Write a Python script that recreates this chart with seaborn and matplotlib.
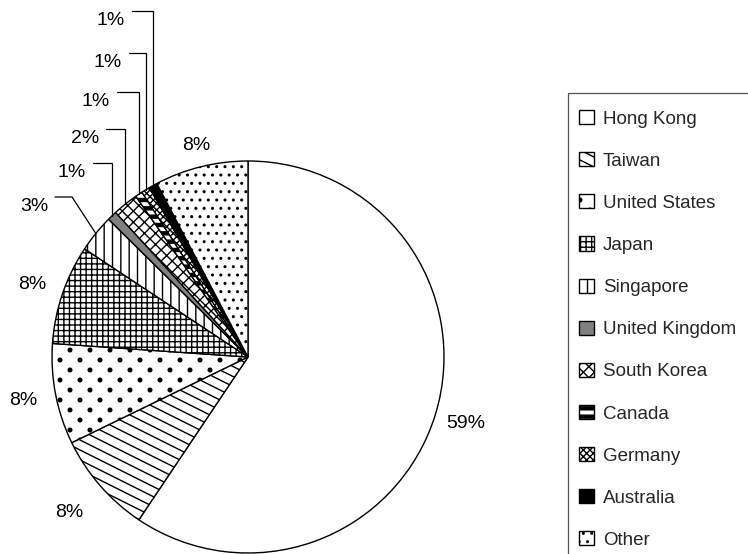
import warnings

import numpy as np
import matplotlib
matplotlib.use("Agg")
import matplotlib.pyplot as plt
from matplotlib import hatch as mhatch
from matplotlib.path import Path
from matplotlib.patches import Rectangle
import seaborn as sns

# Share of total by origin, in percent (clockwise from 12 o'clock)
countries = ["Hong Kong", "Taiwan", "United States", "Japan", "Singapore",
             "United Kingdom", "South Korea", "Canada", "Germany", "Australia",
             "Other"]
shares = [59.4, 8.4, 8.3, 8.2, 3.1, 0.8, 2.1, 0.6, 0.7, 0.7, 7.7]

# Monochrome fills: face colour plus hatch pattern for each slice
faces = ["white", "white", "white", "white", "white", "#808080", "white",
         "white", "white", "black", "white"]
hatches = [None, "z", "d", "+++", "||", None, "xxx", "=", "xxxxx", None, ".."]


# ---- extra hatch patterns (shallow stripes, staggered dots, heavy bands) ----
class _TiledHatch(mhatch.HatchPatternBase):
    key = ""

    def __init__(self, hatch, density):
        self._parts = self.build() if (self.key and self.key in hatch) else []
        self.num_vertices = sum(len(v) for v, _ in self._parts)

    def build(self):
        return []

    def set_vertices_and_codes(self, vertices, codes):
        i = 0
        for v, c in self._parts:
            n = len(v)
            vertices[i:i + n] = v
            codes[i:i + n] = c
            i += n


class ShallowStripes(_TiledHatch):
    key = "z"

    def build(self):
        n = 10
        parts = []
        for k in range(n * 3 // 2 + 1):
            c = k / n
            v = np.array([[-0.1, c + 0.05], [1.1, c - 0.55]])
            parts.append((v, [Path.MOVETO, Path.LINETO]))
        return parts


class StaggeredDots(_TiledHatch):
    key = "d"

    def build(self):
        circle = Path.unit_circle()
        r = 0.018
        parts = []
        for row in range(11):
            y = row / 10
            if row % 2 == 0:
                xs = np.arange(6) / 5
            else:
                xs = (np.arange(5) + 0.5) / 5
            for x in xs:
                parts.append((circle.vertices * r + [x, y], circle.codes))
        return parts


class HeavyBands(_TiledHatch):
    key = "="

    def build(self):
        n, t = 12, 0.03
        parts = []
        for k in range(n + 1):
            y0 = k / n - t / 2
            v = np.array([[-0.05, y0], [1.05, y0], [1.05, y0 + t],
                          [-0.05, y0 + t], [-0.05, y0]])
            parts.append((v, [Path.MOVETO, Path.LINETO, Path.LINETO,
                              Path.LINETO, Path.CLOSEPOLY]))
        return parts


mhatch._hatch_types.extend([ShallowStripes, StaggeredDots, HeavyBands])
warnings.filterwarnings("ignore", message=".*hatch must consist.*")

# ---- style ----
sns.set_theme(style="white")
plt.rcParams["font.family"] = ["Liberation Sans", "DejaVu Sans"]
plt.rcParams["hatch.linewidth"] = 1.0
plt.rcParams["hatch.color"] = "black"

W, H = 748, 554
CX, CY, R = 248, 357, 196          # pie centre and radius in pixels

fig = plt.figure(figsize=(W / 100, H / 100), dpi=100)
ax = fig.add_axes([0, 0, 1, 1])


def px(x, y):
    """Pixel position (from top-left) -> data coordinates of the pie axes."""
    return (x - CX) / R, (CY - y) / R


wedges, _ = ax.pie(shares, startangle=90, counterclock=False, colors=faces,
                   wedgeprops=dict(edgecolor="black", linewidth=1.0))
for w, h in zip(wedges, hatches):
    w.set_hatch(h)

ax.set_xlim(-CX / R, (W - CX) / R)
ax.set_ylim(-(H - CY) / R, CY / R)
ax.set_aspect("auto")
ax.axis("off")


def mid_angle(w):
    return np.deg2rad((w.theta1 + w.theta2) / 2)


def pct(i):
    return f"{shares[i]:.0f}%"


# Labels of the large slices, set radially outside the rim
label_radius = {"Hong Kong": 1.16, "Taiwan": 1.21, "United States": 1.17,
                "Japan": 1.16, "Other": 1.11}
for name, rf in label_radius.items():
    i = countries.index(name)
    a = mid_angle(wedges[i])
    ax.text(rf * np.cos(a), rf * np.sin(a), pct(i), ha="center",
            va="center", fontsize=14, color="black")

# Thin slices: stacked labels with elbow leader lines
# (right edge of text, height of the leader) in pixels
stacked = {"Singapore": (48, 197), "United Kingdom": (86, 163),
           "South Korea": (99, 129), "Canada": (110, 92),
           "Germany": (122, 53), "Australia": (125, 11)}
for name, (tx, ly) in stacked.items():
    i = countries.index(name)
    a = mid_angle(wedges[i])
    ex, ey = np.cos(a), np.sin(a)
    sx, sy = px(tx + 7, ly)
    if name == "Singapore":
        bx, _ = px(tx + 24, ly)
        xs, ys = [sx, bx, ex], [sy, sy, ey]
    else:
        xs, ys = [sx, ex, ex], [sy, sy, ey]
    ax.plot(xs, ys, color="black", lw=0.9, solid_joinstyle="miter")
    ax.text(*px(tx, ly + 14), pct(i), ha="right", va="baseline",
            fontsize=14, color="black")

# Legend inside an open-ended box on the right
fig.add_artist(Rectangle((568 / W, -0.1), 0.5, (H - 93) / H + 0.1,
                         transform=fig.transFigure, fill=False,
                         edgecolor="#555555", lw=0.9))
fig.legend(wedges, countries, loc="upper left",
           bbox_to_anchor=(579 / W, 1 - 110 / H),
           bbox_transform=fig.transFigure, frameon=False, fontsize=13.5,
           handlelength=0.78, handleheight=0.78, handletextpad=0.5,
           labelspacing=1.31, borderpad=0, borderaxespad=0)

fig.savefig("out.png", dpi=100, facecolor="white")
